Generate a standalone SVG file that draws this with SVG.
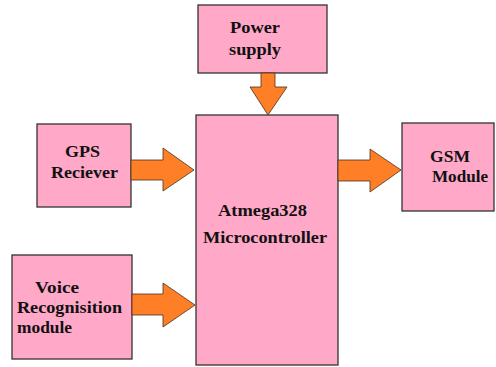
<svg xmlns="http://www.w3.org/2000/svg" width="496" height="367" viewBox="0 0 496 367">
<style>
.box{fill:#ffa8c8;stroke:#333;stroke-width:1.3}
.arr{fill:#ff7f27;stroke:#4a3020;stroke-width:0.8}
text{font-family:"Liberation Serif","Times New Roman",serif;font-weight:bold;font-size:17px;fill:#111}
</style>
<rect width="496" height="367" fill="#fff"/>
<g id="power">
<rect class="box" x="198" y="5" width="129" height="68"/>
<text x="230" y="33" textLength="50" lengthAdjust="spacingAndGlyphs">Power</text>
<text x="229" y="55" textLength="52" lengthAdjust="spacingAndGlyphs">supply</text>
</g>
<g id="gps">
<rect class="box" x="37" y="124" width="94" height="83"/>
<text x="65" y="157" textLength="35" lengthAdjust="spacingAndGlyphs">GPS</text>
<text x="51" y="178" textLength="67" lengthAdjust="spacingAndGlyphs">Reciever</text>
</g>
<g id="voice">
<rect class="box" x="12" y="255" width="120" height="104"/>
<text x="35" y="293" textLength="44" lengthAdjust="spacingAndGlyphs">Voice</text>
<text x="17" y="313" textLength="105" lengthAdjust="spacingAndGlyphs">Recognisition</text>
<text x="17" y="333" textLength="55" lengthAdjust="spacingAndGlyphs">module</text>
</g>
<g id="mcu">
<rect class="box" x="196" y="115" width="142" height="250"/>
<text x="218" y="216" textLength="89" lengthAdjust="spacingAndGlyphs">Atmega328</text>
<text x="203" y="243" textLength="124" lengthAdjust="spacingAndGlyphs">Microcontroller</text>
</g>
<g id="gsm">
<rect class="box" x="402" y="123" width="92" height="88"/>
<text x="430" y="162" textLength="40" lengthAdjust="spacingAndGlyphs">GSM</text>
<text x="432" y="182" textLength="56" lengthAdjust="spacingAndGlyphs">Module</text>
</g>
<g id="connectors">
<polygon class="arr" points="261,73 275,73 275,87 287,87 268,115 250,87 261,87"/>
<polygon class="arr" points="131,160 163,160 163,148 194,170 163,191 163,180 131,180"/>
<polygon class="arr" points="132,294 163,294 163,283 195,305 163,327 163,315 132,315"/>
<polygon class="arr" points="338,160 370,160 370,149 401,170 370,192 370,181 338,181"/>
</g>
</svg>
